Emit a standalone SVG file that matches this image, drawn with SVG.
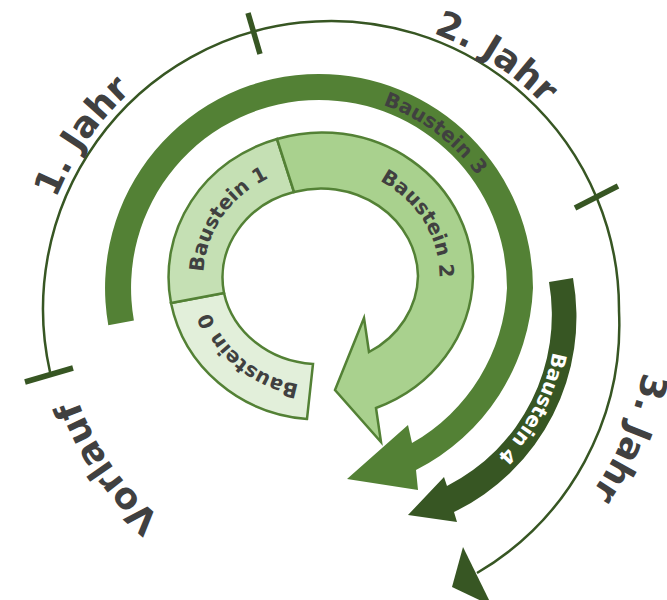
<svg xmlns="http://www.w3.org/2000/svg" width="667" height="600" viewBox="0 0 667 600">
<style>
.seg{stroke:#538135;stroke-width:2.5;stroke-linejoin:miter}
.lbl{font-family:"DejaVu Sans","Verdana",sans-serif;font-weight:bold;fill:#404040}
.big{font-size:36px}
.small{font-size:20px}
.tick{stroke:#375623;stroke-width:5.5;fill:none}
</style>
<defs>
<path id="pB0" d="M 358 381.1 A 118 110 0 0 1 206.1 253.6"/>
<path id="pB1" d="M 217.3 328.1 A 118 110 0 0 1 325.6 166.6"/>
<path id="pB2" d="M 323.6 166.5 A 118 110 0 0 1 422.6 333.2"/>
<path id="pB3" d="M 243.2 109.4 A 194 194 0 0 1 511.5 311.6"/>
<path id="pB4" d="M 526.1 211.6 A 197 197 0 0 1 365.9 512.9"/>
<path id="pJ1" d="M 61.8 436.5 A 297 297 0 0 1 356.9 15.1"/>
<path id="pJ2" d="M 196.6 47.3 A 296 296 0 0 1 626.6 326.5"/>
<path id="pJ3" d="M 585 119.6 A 318 318 0 0 1 369.8 626.6"/>
<path id="pV" d="M 354.4 578 A 268 268 0 0 1 88.1 197.7"/>
</defs>
<g id="connectors">
<path d="M 50 372 A 288 288 0 1 1 619 311 A 288 288 0 0 1 477 573" fill="none" stroke="#375623" stroke-width="2.5"/>
<polygon points="463,547 452,587 492,606" fill="#375623"/>
<line class="tick" x1="25" y1="382" x2="73" y2="368"/>
<line class="tick" x1="248" y1="13" x2="260" y2="54"/>
<line class="tick" x1="575" y1="208" x2="618" y2="186"/>
</g>
<g id="baustein3">
<path d="M 108.3 325.2 A 214 214 0 0 1 319 74 A 214 214 0 0 1 533 288 A 214 214 0 0 1 416 470 L 418 490 L 347 479 L 408 425 L 412 443 A 188 188 0 0 0 507 288 A 188 188 0 0 0 319 100 A 188 188 0 0 0 133.9 320.6 Z" fill="#538135"/>
<text class="lbl small"><textPath href="#pB3" startOffset="50%" text-anchor="middle">Baustein 3</textPath></text>
</g>
<g id="baustein4">
<path d="M 573 278 A 217 217 0 0 1 454 512 L 457 522 L 408 515 L 444 477 L 447 486 A 192 192 0 0 0 549 282 Z" fill="#375623"/>
<text class="lbl small" style="fill:#ffffff"><textPath href="#pB4" startOffset="50%" text-anchor="middle">Baustein 4</textPath></text>
</g>
<g id="baustein0">
<path class="seg" d="M 307 419 A 151 144 0 0 1 171 303 L 224 293 A 97 89 0 0 0 313 364 Z" fill="#E2EFDA"/>
<text class="lbl small"><textPath href="#pB0" startOffset="50%" text-anchor="middle">Baustein 0</textPath></text>
</g>
<g id="baustein1">
<path class="seg" d="M 171 303 A 151 144 0 0 1 277 139 L 294 192 A 97 89 0 0 0 224 293 Z" fill="#C5E0B4"/>
<text class="lbl small"><textPath href="#pB1" startOffset="50%" text-anchor="middle">Baustein 1</textPath></text>
</g>
<g id="baustein2">
<path class="seg" d="M 277 139 A 151 144 0 0 1 473 277 A 151 144 0 0 1 376 408 L 381 442 L 335 390 L 364 318 L 369 352 A 97 89 0 0 0 418 276 A 97 89 0 0 0 294 192 Z" fill="#A9D18E"/>
<text class="lbl small"><textPath href="#pB2" startOffset="50%" text-anchor="middle">Baustein 2</textPath></text>
</g>
<g id="labels">
<text class="lbl big"><textPath href="#pJ1" startOffset="50%" text-anchor="middle">1. Jahr</textPath></text>
<text class="lbl big"><textPath href="#pJ2" startOffset="50%" text-anchor="middle">2. Jahr</textPath></text>
<text class="lbl big"><textPath href="#pJ3" startOffset="50%" text-anchor="middle">3. Jahr</textPath></text>
<text class="lbl big"><textPath href="#pV" startOffset="50%" text-anchor="middle">Vorlauf</textPath></text>
</g>
</svg>
